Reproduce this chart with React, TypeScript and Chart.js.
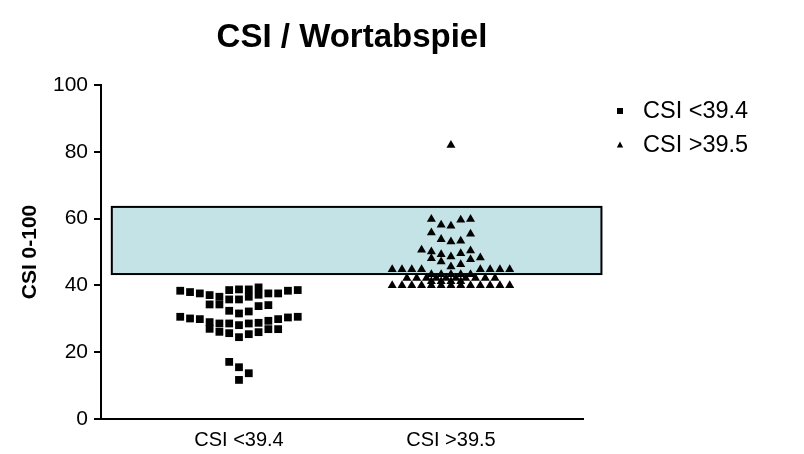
import React, { useEffect, useRef } from 'react';
import { Chart, registerables } from 'chart.js';

Chart.register(...registerables);

const TITLE = 'CSI / Wortabspiel';
const Y_TITLE = 'CSI 0-100';
const CATEGORIES = ['CSI <39.4', 'CSI >39.5'];
const SERIES_LABELS = ['CSI <39.4', 'CSI >39.5'];
const Y_TICKS = [0, 20, 40, 60, 80, 100];

// shaded reference band (y values) and its horizontal extent (x scale units)
const BAND_LOW = 43.4;
const BAND_HIGH = 63.5;
const BAND_X_START = -0.6;
const BAND_X_END = 1.71;

// group "CSI <39.4": values and their swarm column
const LOW_VALUES = [
  38.4, 30.6,
  38.0, 30.1,
  37.6, 29.9,
  37.1, 34.3, 29.0, 27.0,
  36.6, 34.3, 28.6, 26.1,
  38.6, 35.8, 32.4, 28.6, 25.7, 17.1,
  38.8, 35.8, 31.6, 28.1, 24.5, 15.5, 11.7,
  38.8, 36.6, 32.2, 28.6, 25.4, 13.7,
  39.4, 37.2, 33.8, 28.8, 26.0,
  37.6, 34.1, 29.4, 26.9,
  37.6, 29.9, 26.9,
  38.4, 30.4,
  38.6, 30.6,
];
const LOW_COLS = [
  -6, -6,
  -5, -5,
  -4, -4,
  -3, -3, -3, -3,
  -2, -2, -2, -2,
  -1, -1, -1, -1, -1, -1,
  0, 0, 0, 0, 0, 0, 0,
  1, 1, 1, 1, 1, 1,
  2, 2, 2, 2, 2,
  3, 3, 3, 3,
  4, 4, 4,
  5, 5,
  6, 6,
];

// group "CSI >39.5"
const HIGH_VALUES = [
  82,
  59.8, 58.1, 57.8, 59.6, 59.8,
  55.8, 55.4,
  53.8, 53.1, 53.3,
  50.6, 50.1, 49.3, 48.6, 49.6, 50.4, 48.3,
  48.1, 47.1, 47.8,
  45.6, 46.3,
  44.8, 44.8, 44.8, 44.8, 44.8, 44.8, 44.8, 44.8,
  43.3, 43.3, 43.3, 43.3, 43.3,
  42.2, 42.2, 42.2, 42.2, 42.2, 42.2, 42.2, 42.2, 42.2, 42.2,
  41.2, 41.2, 41.2, 41.2,
  40.0, 40.0, 40.0, 40.0, 40.0, 40.0, 40.0, 40.0, 40.0, 40.0, 40.0, 40.0, 40.0,
];
const HIGH_COLS = [
  0,
  -2, -1, 0, 1, 2,
  -2, 2,
  -1, 0, 1,
  -3, -2, -1, 0, 1, 2, 3,
  -2, -1, 2,
  0, 1,
  -6, -5, -4, -3, 3, 4, 5, 6,
  -2, -1, 0, 1, 2,
  -4.5, -3.5, -2.5, -1.5, -0.5, 0.5, 1.5, 2.5, 3.5, 4.5,
  -2, -1, 0, 1,
  -6, -5, -4, -3, -2, -1, 0, 1, 2, 3, 4, 5, 6,
];

const COL_STEP = 0.0462;
const FONT = 'Arial, "Liberation Sans", sans-serif';

const bandPlugin = {
  id: 'band',
  beforeDatasetsDraw(chart: any) {
    const { ctx, scales } = chart;
    const x0 = scales.x.getPixelForValue(BAND_X_START);
    const x1 = scales.x.getPixelForValue(BAND_X_END);
    const y0 = scales.y.getPixelForValue(BAND_HIGH);
    const y1 = scales.y.getPixelForValue(BAND_LOW);
    ctx.save();
    ctx.fillStyle = '#c4e3e7';
    ctx.fillRect(x0, y0, x1 - x0, y1 - y0);
    ctx.strokeStyle = '#000';
    ctx.lineWidth = 2;
    ctx.strokeRect(x0, y0, x1 - x0, y1 - y0);
    ctx.restore();
  },
};

const titleLegendPlugin = {
  id: 'titleLegend',
  afterDraw(chart: any) {
    const { ctx } = chart;
    ctx.save();
    ctx.fillStyle = '#000';
    ctx.font = `bold 33px ${FONT}`;
    ctx.textAlign = 'center';
    ctx.textBaseline = 'middle';
    ctx.fillText(TITLE, 344, 30);

    ctx.font = `23.5px ${FONT}`;
    ctx.textAlign = 'left';
    SERIES_LABELS.forEach((label, i) => {
      const cy = 103 + i * 34;
      const cx = 612;
      ctx.beginPath();
      if (i === 0) {
        ctx.rect(cx - 3, cy - 3, 6, 6);
      } else {
        ctx.moveTo(cx, cy - 3.5);
        ctx.lineTo(cx + 3.2, cy + 2.5);
        ctx.lineTo(cx - 3.2, cy + 2.5);
        ctx.closePath();
      }
      ctx.fill();
      ctx.fillText(label, 635, cy + 1);
    });
    ctx.restore();
  },
};

export default function App() {
  const ref = useRef<HTMLCanvasElement | null>(null);

  useEffect(() => {
    if (!ref.current) return;
    const toPoints = (values: number[], cols: number[], center: number) =>
      values.map((v, i) => ({ x: center + cols[i] * COL_STEP, y: v }));

    const chart = new Chart(ref.current, {
      type: 'scatter',
      data: {
        datasets: [
          {
            label: SERIES_LABELS[0],
            data: toPoints(LOW_VALUES, LOW_COLS, 0),
            pointStyle: 'rect',
            pointRadius: 5.5,
            backgroundColor: '#000',
            borderColor: '#000',
            borderWidth: 0,
          },
          {
            label: SERIES_LABELS[1],
            data: toPoints(HIGH_VALUES, HIGH_COLS, 1),
            pointStyle: 'triangle',
            pointRadius: 5.2,
            backgroundColor: '#000',
            borderColor: '#000',
            borderWidth: 0,
          },
        ],
      },
      options: {
        animation: false,
        responsive: true,
        maintainAspectRatio: false,
        events: [],
        layout: { padding: { left: 0, right: 213, top: 77, bottom: 0 } },
        plugins: {
          legend: { display: false },
          title: { display: false },
          tooltip: { enabled: false },
        },
        scales: {
          x: {
            type: 'linear',
            min: -0.651,
            max: 1.623,
            afterBuildTicks: (scale: any) => {
              scale.ticks = CATEGORIES.map((_, i) => ({ value: i }));
            },
            afterFit: (scale: any) => {
              scale.height = 35;
            },
            ticks: {
              callback: (v: any) => CATEGORIES[v as number] ?? '',
              color: '#000',
              font: { family: FONT, size: 20 },
              padding: 9,
              maxRotation: 0,
              autoSkip: false,
            },
            grid: { drawOnChartArea: false, drawTicks: false },
            border: { display: true, color: '#000', width: 2 },
          },
          y: {
            type: 'linear',
            min: 0,
            max: 100,
            afterBuildTicks: (scale: any) => {
              scale.ticks = Y_TICKS.map((v) => ({ value: v }));
            },
            afterFit: (scale: any) => {
              scale.width = 93;
            },
            ticks: {
              color: '#000',
              font: { family: FONT, size: 21 },
              padding: 6,
            },
            grid: {
              drawOnChartArea: false,
              drawTicks: true,
              tickLength: 7,
              color: '#000',
              lineWidth: 2,
            },
            border: { display: true, color: '#000', width: 2 },
            title: {
              display: true,
              text: Y_TITLE,
              color: '#000',
              font: { family: FONT, size: 21, weight: 'bold' },
              padding: { top: 10, bottom: 0 },
            },
          },
        },
      },
      plugins: [bandPlugin, titleLegendPlugin],
    });
    return () => chart.destroy();
  }, []);

  return (
    <div style={{ width: 788, height: 446, marginBottom: -8, position: 'relative' }}>
      <canvas ref={ref} />
    </div>
  );
}
